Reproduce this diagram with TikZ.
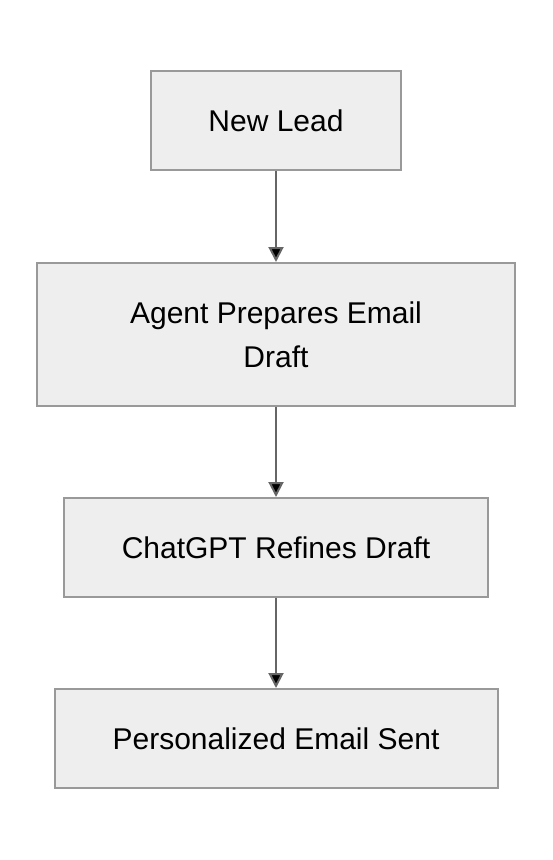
\documentclass[tikz,border=0pt]{standalone}
\usepackage{fontspec}
\setmainfont{Liberation Sans}
\usetikzlibrary{positioning,arrows.meta}

\definecolor{boxfill}{HTML}{EEEEEE}
\definecolor{boxline}{HTML}{999999}
\definecolor{arrowline}{HTML}{666666}

\begin{document}
\begin{tikzpicture}[x=1pt, y=1pt, node distance = 214pt, on grid,
                    stepbox/.style = {rectangle,
                                      fill = boxfill,
                                      draw = boxline,
                                      line width = 2pt,
                                      text = black,
                                      align = center,
                                      font = \fontsize{30}{44}\selectfont,
                                      inner sep = 0pt,
                                      minimum height = 99pt},
                    flow/.style    = {-{Triangle[length=15pt, width=15pt]},
                                      draw = arrowline,
                                      line width = 2pt}]

\useasboundingbox (0,0) rectangle (552,-860);

\node[stepbox, minimum width = 250pt] (lead) at (276,-120.5) {New Lead};
\node[stepbox, minimum width = 478pt, minimum height = 143pt] (prep)
      [below = of lead] {Agent Prepares Email\\Draft};
\node[stepbox, minimum width = 424pt] (refine) [below = 213pt of prep] {ChatGPT Refines Draft};
\node[stepbox, minimum width = 443pt] (sent) [below = 191pt of refine] {Personalized Email Sent};

\path[flow] (lead) edge (prep);
\path[flow] (prep) edge (refine);
\path[flow] (refine) edge (sent);

\end{tikzpicture}
\end{document}
